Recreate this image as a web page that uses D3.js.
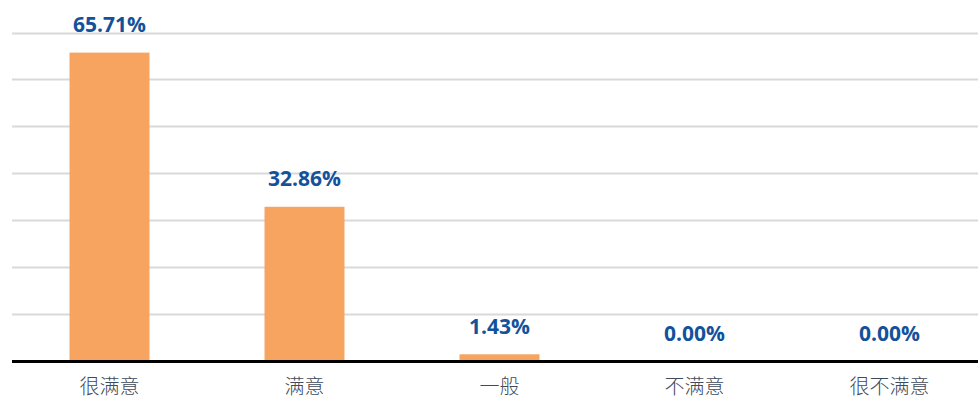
<!DOCTYPE html>
<html><head><meta charset="utf-8">
<script src="https://cdn.jsdelivr.net/npm/d3@7"></script>
<style>html,body{margin:0;padding:0;background:#fff;}svg{display:block;}</style>
</head><body><svg id="c" width="978" height="399"></svg>
<script>
const categories = ["很满意", "满意", "一般", "不满意", "很不满意"];
const values = [65.71, 32.86, 1.43, 0.00, 0.00];
const yTicks = [0, 10, 20, 30, 40, 50, 60, 70];

const svg = d3.select("#c");
const x = d3.scaleBand().domain(categories).range([12, 987]).paddingInner(0.59).paddingOuter(0.295);
const y = d3.scaleLinear().domain([0, 70]).range([361, 32.5]);

svg.append("g").selectAll("line").data(yTicks.filter(d => d > 0)).join("line")
  .attr("x1", 12).attr("x2", 978)
  .attr("y1", d => Math.round(y(d)) + 0.5).attr("y2", d => Math.round(y(d)) + 0.5)
  .attr("stroke", "#d9d9d9").attr("stroke-width", 2);

svg.append("g").selectAll("rect").data(values).join("rect")
  .attr("x", (d, i) => x(categories[i]))
  .attr("width", x.bandwidth())
  .attr("y", d => y(d))
  .attr("height", d => y(0) - y(d))
  .attr("fill", "#f6a460");

svg.append("line").attr("x1", 12).attr("x2", 978).attr("y1", y(0) + 0.5).attr("y2", y(0) + 0.5)
  .attr("stroke", "#000").attr("stroke-width", 3);

svg.append("g").selectAll("text").data(values).join("text")
  .attr("x", (d, i) => x(categories[i]) + x.bandwidth() / 2)
  .attr("y", d => y(d) - 20.5)
  .attr("text-anchor", "middle")
  .attr("font-family", "'Open Sans', sans-serif")
  .attr("font-weight", "bold").attr("font-size", 21)
  .attr("fill", "#14519b")
  .text(d => d.toFixed(2) + "%");

svg.append("g").selectAll("text").data(categories).join("text")
  .attr("x", d => x(d) + x.bandwidth() / 2)
  .attr("y", 394)
  .attr("text-anchor", "middle")
  .attr("font-family", "'Noto Sans CJK SC', sans-serif")
  .attr("font-weight", 300).attr("font-size", 20)
  .attr("fill", "#3f4a5a")
  .text(d => d);
</script></body></html>
